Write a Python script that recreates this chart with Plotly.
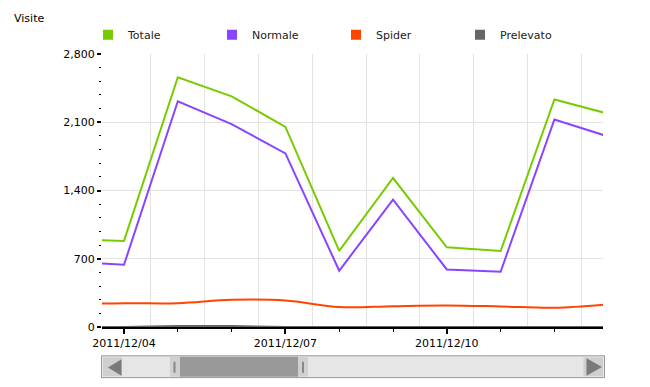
import plotly.graph_objects as go

# ---- data ----
dates = ["2011-12-03", "2011-12-04", "2011-12-05", "2011-12-06", "2011-12-07",
         "2011-12-08", "2011-12-09", "2011-12-10", "2011-12-11", "2011-12-12",
         "2011-12-13"]
totale = [901, 883, 2562, 2366, 2053, 781, 1528, 818, 779, 2333, 2187]
normale = [672, 638, 2315, 2081, 1781, 577, 1307, 590, 567, 2128, 1953]
spider = [232, 244, 244, 279, 272, 204, 214, 221, 211, 198, 234]
prelevato = [0, 0, 10, 10, 0, 0, 6, 0, 0, 4, 0]

series_names = ["Totale", "Normale", "Spider", "Prelevato"]
series_colors = ["#77CC00", "#8844FF", "#FF4400", "#666666"]
series_values = [totale, normale, spider, prelevato]
series_shapes = ["linear", "linear", "spline", "linear"]

x_range = ["2011-12-03 14:11", "2011-12-12 21:40"]
DAY = 86400000

FONT = "DejaVu Sans"

fig = go.Figure()

# invisible trace so the overlaid grid axis is drawn
fig.add_trace(go.Scatter(x=dates, y=spider, xaxis="x2", yaxis="y", mode="lines",
                         opacity=0, showlegend=False, hoverinfo="skip"))

for name, col, vals, shp in zip(series_names, series_colors, series_values, series_shapes):
    fig.add_trace(go.Scatter(x=dates, y=vals, mode="lines", name=name,
                             line=dict(color=col, width=2, shape=shp),
                             showlegend=False))
# legend squares
for name, col in zip(series_names, series_colors):
    fig.add_trace(go.Scatter(x=[None], y=[None], mode="markers", name=name,
                             marker=dict(symbol="square", size=10, color=col),
                             showlegend=True))

# ---- geometry (page pixels; the page body adds an 8px offset) ----
OFF = 8
W, H = 650 - OFF, 387 - OFF
PL, PT, PR, PB = 102, 52, 603, 327          # plot area in page pixels
L, T = PL - OFF, PT - OFF
R, B = W + OFF - PR, H + OFF - PB
PW, PH = PR - PL, PB - PT


def px(x):
    return (x - PL) / PW


def py(y):
    return (PB - y) / PH


def rect(x0, y0, x1, y1, fill, line=None):
    return dict(type="rect", xref="paper", yref="paper",
                x0=px(x0), x1=px(x1), y0=py(y0), y1=py(y1),
                fillcolor=fill,
                line=dict(color=line or fill, width=1 if line else 0))


def tri(pts, fill):
    path = "M " + " L ".join(f"{px(a)},{py(b)}" for a, b in pts) + " Z"
    return dict(type="path", xref="paper", yref="paper", path=path,
                fillcolor=fill, line=dict(width=0))


shapes = [
    rect(101.5, 356, 604.5, 378, "#E6E6E6", "#999999"),
    rect(103, 357.5, 122, 376.5, "#CFCFCF"),
    tri([(121.5, 359.5), (121.5, 376), (108, 367.7)], "#7A7A7A"),
    rect(583.5, 357.5, 603, 376.5, "#CFCFCF"),
    tri([(586.5, 358.5), (586.5, 376), (602, 367.3)], "#7A7A7A"),
    rect(170, 357, 180, 377, "#D0D0D0"),
    rect(173.5, 362, 175.5, 373, "#888888"),
    rect(180, 357, 298, 377, "#999999"),
    rect(298, 357, 308, 377, "#D0D0D0"),
    rect(302, 362, 304, 373, "#888888"),
]

fig.update_layout(
    width=W, height=H,
    margin=dict(l=L, r=R, t=T, b=B),
    paper_bgcolor="white", plot_bgcolor="white",
    font=dict(family=FONT, size=11, color="#000000"),
    annotations=[dict(text="Visite", xref="paper", yref="paper",
                      x=px(13), y=py(8.5), xanchor="left", yanchor="top",
                      showarrow=False, borderpad=0,
                      font=dict(family=FONT, size=11, color="#000000"))],
    showlegend=True,
    legend=dict(orientation="h", x=px(88), xanchor="left", y=py(18), yanchor="top",
                entrywidth=79, entrywidthmode="pixels",
                font=dict(family=FONT, size=11, color="#222222"),
                bgcolor="rgba(0,0,0,0)", borderwidth=0, traceorder="normal"),
    shapes=shapes,
    xaxis=dict(
        type="date", range=x_range,
        tick0="2011-12-04", dtick=3 * DAY, tickformat="%Y/%m/%d",
        ticks="outside", ticklen=5, tickwidth=2, tickcolor="#000000",
        showline=True, linecolor="#000000", linewidth=2,
        showgrid=False, zeroline=False,
        tickfont=dict(family=FONT, size=11, color="#000000"),
        minor=dict(tick0="2011-12-04", dtick=DAY, ticks="outside", ticklen=3,
                   tickwidth=1, tickcolor="#000000", showgrid=False),
    ),
    xaxis2=dict(
        type="date", range=x_range, overlaying="x", anchor="y", side="bottom",
        tick0="2011-12-03 12:00", dtick=DAY,
        showgrid=True, gridcolor="#E3E3E3", gridwidth=1,
        showticklabels=False, ticks="", showline=False, zeroline=False,
    ),
    yaxis=dict(
        range=[0, 2800], dtick=700, tickformat=",d",
        ticks="outside", ticklen=4, tickwidth=2, tickcolor="#000000",
        showline=False, zeroline=False,
        showgrid=True, gridcolor="#E3E3E3", gridwidth=1,
        tickfont=dict(family=FONT, size=11, color="#000000"),
        minor=dict(dtick=140, ticks="outside", ticklen=2, tickwidth=1,
                   tickcolor="#000000", showgrid=False),
    ),
)

fig.write_html("out.html")
